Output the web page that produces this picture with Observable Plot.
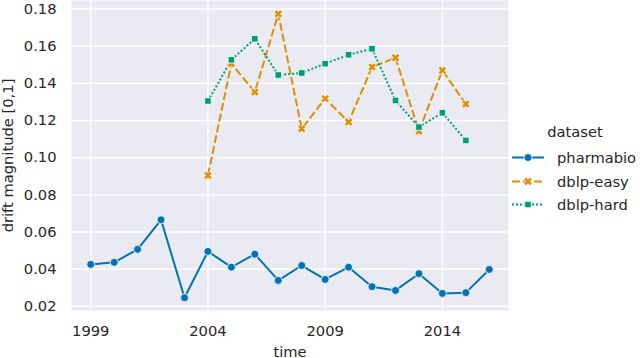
<!DOCTYPE html>
<html>
<head>
<meta charset="utf-8">
<script src="https://cdn.jsdelivr.net/npm/d3@7"></script>
<script src="https://cdn.jsdelivr.net/npm/@observablehq/plot@0.6"></script>
<style>
  html, body { margin: 0; padding: 0; background: #fff; }
  #chart { position: relative; width: 640px; height: 358px; overflow: hidden; font-family: "DejaVu Sans", sans-serif; }
  #legend { position: absolute; left: 0; top: 0; }
</style>
</head>
<body>
<div id="chart"></div>
<script>
const seriesNames = ["pharmabio", "dblp-easy", "dblp-hard"];
const seriesColors = ["#0173B2", "#DE8F05", "#029E73"];

const pharmabioYears = [1999,2000,2001,2002,2003,2004,2005,2006,2007,2008,2009,2010,2011,2012,2013,2014,2015,2016];
const pharmabioValues = [0.0426,0.0437,0.0507,0.0666,0.0247,0.0496,0.0411,0.0481,0.0340,0.0420,0.0345,0.0411,0.0306,0.0286,0.0376,0.0270,0.0274,0.0399];

const dblpEasyYears = [2004,2005,2006,2007,2008,2009,2010,2011,2012,2013,2014,2015];
const dblpEasyValues = [0.0905,0.1506,0.1353,0.1774,0.1156,0.1318,0.1192,0.1488,0.1538,0.1143,0.1470,0.1289];

const dblpHardYears = [2004,2005,2006,2007,2008,2009,2010,2011,2012,2013,2014,2015];
const dblpHardValues = [0.1305,0.1527,0.1640,0.1445,0.1456,0.1506,0.1554,0.1586,0.1308,0.1165,0.1242,0.1093];

const xTicks = [1999, 2004, 2009, 2014];
const yTicks = [0.02, 0.04, 0.06, 0.08, 0.10, 0.12, 0.14, 0.16, 0.18];

const toRows = (years, values, name) => years.map((t, i) => ({time: t, value: values[i], dataset: name}));
const rows = [
  ...toRows(pharmabioYears, pharmabioValues, "pharmabio"),
  ...toRows(dblpEasyYears, dblpEasyValues, "dblp-easy"),
  ...toRows(dblpHardYears, dblpHardValues, "dblp-hard")
];

// filled "X" marker like matplotlib's 'X'
const symbolX = {
  draw(context, size) {
    const r = Math.sqrt(size / Math.PI) * 1.05;
    const w = r * 0.36;
    const plus = [[-w,-r],[w,-r],[w,-w],[r,-w],[r,w],[w,w],[w,r],[-w,r],[-w,w],[-r,w],[-r,-w],[-w,-w]];
    const c = Math.SQRT1_2;
    const pts = plus.map(([x, y]) => [c * (x - y), c * (x + y)]);
    context.moveTo(pts[0][0], pts[0][1]);
    for (let i = 1; i < pts.length; i++) context.lineTo(pts[i][0], pts[i][1]);
    context.closePath();
  }
};

const dashes = {"pharmabio": null, "dblp-easy": "8,3", "dblp-hard": "2,2"};
const symbols = {"pharmabio": "circle", "dblp-easy": symbolX, "dblp-hard": "square"};
const radii = {"pharmabio": 4, "dblp-easy": 4.2, "dblp-hard": 3.7};
const FS = 14.7;

const lineMarks = seriesNames.map((name, i) => Plot.line(rows.filter(d => d.dataset === name), {
  x: "time", y: "value", stroke: seriesColors[i], strokeWidth: 2,
  strokeDasharray: dashes[name], strokeLinecap: "butt", strokeLinejoin: "round"
}));
const dotMarks = seriesNames.map((name, i) => Plot.dot(rows.filter(d => d.dataset === name), {
  x: "time", y: "value", fill: seriesColors[i], stroke: "white", strokeWidth: 0.8,
  symbol: () => symbols[name], r: radii[name]
}));

const plot = Plot.plot({
  width: 640,
  height: 358,
  marginLeft: 71,
  marginRight: 132,
  marginTop: 0,
  marginBottom: 48,
  style: {fontFamily: "DejaVu Sans, sans-serif", fontSize: FS + "px", color: "#262626", background: "transparent"},
  x: {domain: [1998.18, 2016.82]},
  y: {domain: [0.0178, 0.1846]},
  marks: [
    Plot.frame({fill: "#EAEAF2", stroke: null}),
    Plot.gridX(xTicks, {stroke: "white", strokeOpacity: 1, strokeWidth: 1.4}),
    Plot.gridY(yTicks, {stroke: "white", strokeOpacity: 1, strokeWidth: 1.4}),
    Plot.axisX(xTicks, {tickSize: 0, tickPadding: 15, fontSize: FS, tickFormat: d => String(d), label: "time", labelAnchor: "center", labelArrow: "none", labelOffset: 46, fill: "#262626"}),
    Plot.axisY(yTicks, {tickSize: 0, tickPadding: 15, fontSize: FS, tickFormat: d => d.toFixed(2), label: "drift magnitude [0,1]", labelAnchor: "center", labelArrow: "none", labelOffset: 69, fill: "#262626"}),
    ...lineMarks,
    ...dotMarks
  ]
});

const chart = document.getElementById("chart");
chart.appendChild(plot);

// legend overlay
const leg = d3.select(chart).append("svg").attr("id", "legend").attr("width", 640).attr("height", 358)
  .style("font-family", "DejaVu Sans, sans-serif").style("font-size", FS + "px");
leg.append("text").attr("x", 575).attr("y", 137).attr("text-anchor", "middle").attr("fill", "#262626").text("dataset");
const legY = [157.5, 181.5, 204.5];
seriesNames.forEach((name, i) => {
  const g = leg.append("g");
  g.append("line").attr("x1", 512).attr("x2", 544).attr("y1", legY[i]).attr("y2", legY[i])
    .attr("stroke", seriesColors[i]).attr("stroke-width", 2)
    .attr("stroke-dasharray", dashes[name]);
  const sym = symbols[name];
  const type = typeof sym === "string" ? (sym === "circle" ? d3.symbolCircle : d3.symbolSquare) : sym;
  const r = radii[name];
  g.append("path").attr("d", d3.symbol(type, Math.PI * r * r)())
    .attr("transform", `translate(528,${legY[i]})`)
    .attr("fill", seriesColors[i]).attr("stroke", "white").attr("stroke-width", 0.8);
  g.append("text").attr("x", 557).attr("y", legY[i]).attr("dy", "0.35em").attr("fill", "#262626").text(name);
});
</script>
</body>
</html>
